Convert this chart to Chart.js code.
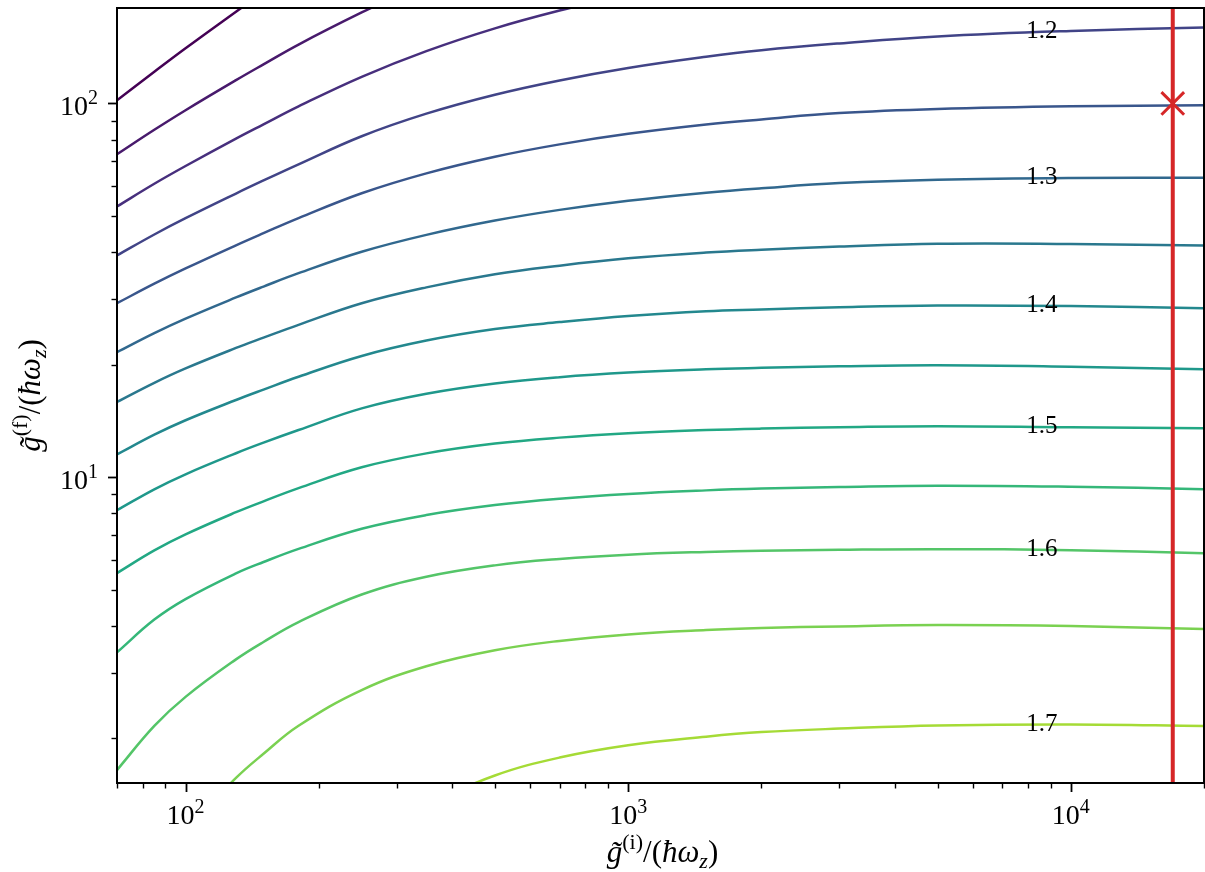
<!DOCTYPE html>
<html>
<head>
<meta charset="utf-8">
<script src="https://cdn.jsdelivr.net/npm/chart.js@4.4.1/dist/chart.umd.min.js"></script>
<style>
    html, body { margin: 0; padding: 0; background: #ffffff; }
    #wrap { width: 1205px; height: 872px; }
</style>
</head>
<body>
<div id="wrap"><canvas id="contourChart"></canvas></div>
<script>
const xGrid = [70, 85, 100, 130, 150, 180, 250, 350, 500, 700, 1000, 1500, 2000, 3000, 5000, 10000, 20000];

// Contour levels and their viridis colours
const levels = [1.05, 1.10, 1.15, 1.20, 1.25, 1.30, 1.35, 1.40, 1.45, 1.50, 1.55, 1.60, 1.65, 1.70];
const levelColors = ['#440154', '#481a6c', '#472f7d', '#414487', '#39568c', '#31688e', '#2a788e',
                     '#23888e', '#1f988b', '#22a884', '#35b779', '#54c568', '#7ad151', '#a5db36'];

// g_f of each contour at xGrid (null = not drawn there)
const y105 = [102.0, 121.5, 140.4, 175.9, 198.7, 231.5, null, null, null, null, null, null, null, null, null, null, null];
const y110 = [73.1, 85.0, 95.9, 115.4, 127.2, 143.7, 175.1, 211.5, null, null, null, null, null, null, null, null, null];
const y115 = [53.0, 60.96, 68.0, 80.5, 87.9, 98.2, 117.8, 138.0, 158.8, 177.2, 195.8, null, null, null, null, null, null];
const y120 = [39.2, 44.6, 49.3, 57.4, 62.2, 68.7, 81.7, 93.9, 105.5, 115.2, 124.4, 133.3, 138.8, 144.7, 151.1, 156.3, 159.7];
const y125 = [29.2, 32.94, 36.19, 41.73, 44.96, 49.33, 57.5, 65.0, 72.0, 77.7, 82.9, 87.8, 90.6, 94.2, 96.6, 98.2, 98.8];
const y130 = [21.6, 24.29, 26.56, 30.26, 32.36, 35.14, 40.1, 44.5, 48.6, 51.9, 54.9, 57.7, 59.3, 61.2, 62.5, 63.2, 63.3];
const y135 = [15.9, 17.89, 19.55, 22.17, 23.62, 25.56, 29.2, 32.2, 34.9, 36.8, 38.5, 39.9, 40.6, 41.4, 42.1, 42.05, 41.7];
const y140 = [11.5, 12.99, 14.2, 16.09, 17.15, 18.56, 21.1, 23.2, 24.9, 26.0, 27.0, 27.8, 28.1, 28.5, 28.8, 28.7, 28.3];
const y145 = [8.16, 9.28, 10.18, 11.59, 12.37, 13.37, 15.28, 16.72, 17.81, 18.52, 19.05, 19.44, 19.61, 19.80, 19.93, 19.75, 19.45];
const y150 = [5.54, 6.37, 7.03, 8.06, 8.62, 9.35, 10.63, 11.58, 12.30, 12.76, 13.11, 13.37, 13.49, 13.6, 13.69, 13.6, 13.52];
const y155 = [3.40, 4.16, 4.72, 5.53, 5.93, 6.43, 7.28, 7.92, 8.42, 8.76, 9.02, 9.22, 9.32, 9.41, 9.49, 9.43, 9.29];
const y160 = [1.646, 2.160, 2.584, 3.255, 3.624, 4.095, 4.854, 5.414, 5.809, 6.042, 6.204, 6.310, 6.357, 6.396, 6.42, 6.38, 6.26];
const y165 = [null, null, 1.130, 1.568, 1.820, 2.163, 2.695, 3.121, 3.444, 3.648, 3.797, 3.899, 3.947, 3.989, 4.021, 3.997, 3.923];
const y170 = [null, null, null, null, null, null, 1.086, 1.327, 1.592, 1.778, 1.918, 2.022, 2.080, 2.125, 2.166, 2.180, 2.160];
const contourY = [y105, y110, y115, y120, y125, y130, y135, y140, y145, y150, y155, y160, y165, y170];

// Inline labels (every second level) and where they sit along x
const labelledLevels = [1.2, 1.3, 1.4, 1.5, 1.6, 1.7];
const labelAtX = 8600;

// Axis ranges and labelled decades
const xRange = [70, 20000];
const yRange = [1.52, 180];
const xDecades = [2, 3, 4];
const yDecades = [1, 2];

// Chosen working point: vertical line at g_i and marker at (g_i, g_f)
const pointGi = [17000];
const pointGf = [100];

const FONT = "'Liberation Serif', 'DejaVu Serif', serif";
const RED = '#d62728';

// Log ticks 1..9 x 10^e inside the range (1 = major)
function logTicks(lo, hi) {
    let out = [];
    for (let e = Math.floor(Math.log10(lo)); e <= Math.ceil(Math.log10(hi)); e++) {
        for (let m = 1; m <= 9; m++) {
            let v = m * Math.pow(10, e);
            if (v >= lo * 0.999 && v <= hi * 1.001) out.push({ value: v, major: m === 1 });
        }
    }
    return out;
}

// Interpolate a contour in log-log space, used only to place its label
function interpLog(ys, x) {
    for (let i = 0; i < xGrid.length - 1; i++) {
        if (x >= xGrid[i] && x <= xGrid[i + 1] && ys[i] !== null && ys[i + 1] !== null) {
            let t = (Math.log(x) - Math.log(xGrid[i])) / (Math.log(xGrid[i + 1]) - Math.log(xGrid[i]));
            return Math.exp(Math.log(ys[i]) + t * (Math.log(ys[i + 1]) - Math.log(ys[i])));
        }
    }
    return null;
}

// Draw text made of pieces with their own font / vertical shift
function drawRich(ctx, parts, x, y, align) {
    let w = 0;
    parts.forEach(p => { ctx.font = p.font; p.w = ctx.measureText(p.t).width; w += p.w; });
    let cx = align === 'center' ? x - w / 2 : (align === 'right' ? x - w : x);
    ctx.textAlign = 'left';
    ctx.textBaseline = 'alphabetic';
    parts.forEach(p => {
        ctx.font = p.font;
        ctx.fillText(p.t, cx, y + (p.dy || 0));
        cx += p.w;
    });
}

function axisTitle(sup) {
    return [
        { t: 'g\u0303', font: 'italic 31px ' + FONT },
        { t: '(' + sup + ')', font: '22px ' + FONT, dy: -13 },
        { t: '/(', font: '31px ' + FONT },
        { t: '\u0127\u03c9', font: 'italic 31px ' + FONT },
        { t: 'z', font: 'italic 22px ' + FONT, dy: 6 },
        { t: ')', font: '31px ' + FONT }
    ];
}

function powerLabel(e) {
    return [
        { t: '10', font: '28px ' + FONT },
        { t: String(e), font: '20px ' + FONT, dy: -11 }
    ];
}

const decorations = {
    id: 'decorations',
    afterDatasetsDraw(chart) {
        const ctx = chart.ctx;
        const xs = chart.scales.x, ys = chart.scales.y;
        ctx.save();
        ctx.fillStyle = '#000';
        ctx.font = '25px ' + FONT;
        ctx.textAlign = 'center';
        ctx.textBaseline = 'alphabetic';
        labelledLevels.forEach(lv => {
            let k = levels.findIndex(l => Math.abs(l - lv) < 1e-9);
            let yv = interpLog(contourY[k], labelAtX);
            if (yv === null) return;
            ctx.fillText(lv.toFixed(1), xs.getPixelForValue(labelAtX), ys.getPixelForValue(yv) + 6);
        });
        ctx.restore();
    },
    afterDraw(chart) {
        const ctx = chart.ctx;
        const a = chart.chartArea;
        const xs = chart.scales.x, ys = chart.scales.y;
        ctx.save();
        ctx.strokeStyle = '#000';
        ctx.fillStyle = '#000';

        // frame
        ctx.lineWidth = 2;
        ctx.strokeRect(a.left, a.top, a.right - a.left, a.bottom - a.top);

        // tick marks, major longer than minor
        xs.ticks.forEach(t => {
            let px = Math.round(xs.getPixelForValue(t.value)) + 0.5;
            ctx.lineWidth = t.major ? 1.8 : 1.4;
            ctx.beginPath();
            ctx.moveTo(px, a.bottom);
            ctx.lineTo(px, a.bottom + (t.major ? 9 : 5.5));
            ctx.stroke();
        });
        ys.ticks.forEach(t => {
            let py = Math.round(ys.getPixelForValue(t.value)) + 0.5;
            ctx.lineWidth = t.major ? 1.8 : 1.4;
            ctx.beginPath();
            ctx.moveTo(a.left, py);
            ctx.lineTo(a.left - (t.major ? 9 : 5.5), py);
            ctx.stroke();
        });

        // tick labels 10^n
        xDecades.forEach(e => {
            drawRich(ctx, powerLabel(e), xs.getPixelForValue(Math.pow(10, e)), a.bottom + 41, 'center');
        });
        yDecades.forEach(e => {
            drawRich(ctx, powerLabel(e), a.left - 19, ys.getPixelForValue(Math.pow(10, e)) + 11.5, 'right');
        });

        // axis titles
        drawRich(ctx, axisTitle('i'), (a.left + a.right) / 2 + 2, 862, 'center');
        ctx.translate(40, (a.top + a.bottom) / 2);
        ctx.rotate(-Math.PI / 2);
        drawRich(ctx, axisTitle('f'), 0, 0, 'center');
        ctx.restore();
    }
};

// Build datasets from the arrays above
const datasets = contourY.map((ys, k) => ({
    label: levels[k].toFixed(2),
    data: xGrid.map((x, i) => ({ x: x, y: ys[i] })).filter(p => p.y !== null),
    borderColor: levelColors[k],
    borderWidth: 2.5,
    pointRadius: 0,
    showLine: true,
    tension: 0.4,
    order: 2
}));

datasets.push({
    label: 'g_i line',
    data: [{ x: pointGi[0], y: yRange[0] }, { x: pointGi[0], y: yRange[1] }],
    borderColor: RED,
    borderWidth: 4,
    pointRadius: 0,
    showLine: true,
    order: 1
});

datasets.push({
    label: 'working point',
    data: [{ x: pointGi[0], y: pointGf[0] }],
    pointStyle: 'crossRot',
    pointRadius: 16,
    pointBorderWidth: 3,
    borderColor: RED,
    backgroundColor: RED,
    showLine: false,
    order: 0
});

const ctx = document.getElementById('contourChart').getContext('2d');
new Chart(ctx, {
    type: 'scatter',
    data: { datasets: datasets },
    plugins: [decorations],
    options: {
        responsive: true,
        maintainAspectRatio: false,
        animation: false,
        devicePixelRatio: 1,
        layout: { autoPadding: false, padding: { top: 8, right: 1, left: 0, bottom: 0 } },
        plugins: {
            legend: { display: false },
            tooltip: { enabled: false }
        },
        scales: {
            x: {
                type: 'logarithmic',
                min: xRange[0],
                max: xRange[1],
                afterBuildTicks: s => { s.ticks = logTicks(xRange[0], xRange[1]); },
                afterFit: s => { s.height = 89; },
                ticks: { display: false },
                grid: { display: false, drawTicks: false },
                border: { display: false }
            },
            y: {
                type: 'logarithmic',
                min: yRange[0],
                max: yRange[1],
                afterBuildTicks: s => { s.ticks = logTicks(yRange[0], yRange[1]); },
                afterFit: s => { s.width = 117; },
                ticks: { display: false },
                grid: { display: false, drawTicks: false },
                border: { display: false }
            }
        }
    }
});
</script>
</body>
</html>
